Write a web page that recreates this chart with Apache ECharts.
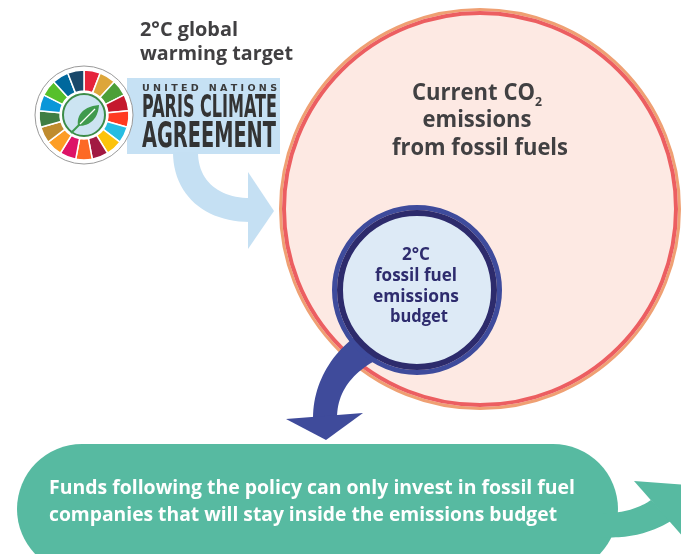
<!DOCTYPE html>
<html>
<head>
<meta charset="utf-8">
<script src="https://cdn.jsdelivr.net/npm/echarts@6/dist/echarts.min.js"></script>
<style>
  html, body { margin: 0; padding: 0; background: #fff; }
  #chart { width: 681px; height: 554px; }
</style>
</head>
<body>
<div id="chart"></div>
<script>
// SDG wheel: 17 equal segments, clockwise from 12 o'clock
const wheelColors = ["#E5243B", "#DDA63A", "#4C9F38", "#C5192D", "#FF3A21", "#26BDE2", "#FCC30B", "#A21942", "#FD6925",
  "#DD1367", "#FD9D24", "#BF8B2E", "#3F7E44", "#0A97D9", "#56C02B", "#00689D", "#19486A"];
const wheelValues = [1, 1, 1, 1, 1, 1, 1, 1, 1, 1, 1, 1, 1, 1, 1, 1, 1];

const titleLines = ["2°C global", "warming target"];
const logoLines = ["U N I T E D   N A T I O N S", "PARIS CLIMATE", "AGREEMENT"];
const currentLines = ["Current CO", "emissions", "from fossil fuels"];
const currentSub = "2";
const budgetLines = ["2°C", "fossil fuel", "emissions", "budget"];
const boxLines = [
  "Funds following the policy can only invest in fossil fuel",
  "companies that will stay inside the emissions budget",
];

const SANS = '"Open Sans", "Noto Sans", sans-serif';
const NARROW = '"Liberation Sans Narrow", "DejaVu Sans Condensed", sans-serif';
const DARK = "#414042";

// squeeze text to the width it has in the picture
const ctx = document.createElement("canvas").getContext("2d");
function fit(text, size, family, target) {
  ctx.font = "bold " + size + "px " + family;
  return target / ctx.measureText(text).width;
}

function label(text, x, y, size, color, target, align, family) {
  family = family || SANS;
  return {
    type: "text",
    x: x,
    y: y,
    scaleX: fit(text, size, family, target),
    z: 20,
    silent: true,
    style: {
      text: text,
      fontSize: size,
      fontWeight: "bold",
      fontFamily: family,
      fill: color,
      align: align || "left",
      verticalAlign: "middle",
    },
  };
}

// cubic bezier -> points (graphic component has no path type)
function cubic(p0, p1, p2, p3) {
  const pts = [];
  for (let i = 0; i <= 24; i++) {
    const t = i / 24, u = 1 - t;
    pts.push([
      u * u * u * p0[0] + 3 * u * u * t * p1[0] + 3 * u * t * t * p2[0] + t * t * t * p3[0],
      u * u * u * p0[1] + 3 * u * u * t * p1[1] + 3 * u * t * t * p2[1] + t * t * t * p3[1],
    ]);
  }
  return pts;
}

function shape(points, fill, z) {
  return { type: "polygon", z: z, silent: true, shape: { points: points }, style: { fill: fill } };
}

const lightArrow = cubic([173, 152], [173, 195], [205, 222], [250, 222])
  .concat(cubic([250, 198], [220, 198], [198, 182], [198, 152]));
const darkArrow = cubic([356, 336], [330, 355], [313, 385], [313, 418])
  .concat(cubic([337, 418], [337, 392], [352, 372], [380, 358]));
const greenArrow = cubic([600, 513], [620, 514], [638, 509], [651, 500])
  .concat(cubic([671, 521], [650, 534], [625, 539], [600, 537]));
const leaf = cubic([78, 126], [76, 113], [86, 106], [99, 105])
  .concat(cubic([99, 105], [98, 119], [90, 126], [78, 126]));

const chart = echarts.init(document.getElementById("chart"));

const graphics = [
  // light blue band behind the UN text
  { type: "rect", z: 0, silent: true, shape: { x: 127, y: 78, width: 153, height: 76 }, style: { fill: "#C6E1F4" } },
  // light blue arrow
  shape(lightArrow, "#C5E0F3", 0),
  shape([[248, 172], [274, 211], [248, 249]], "#C5E0F3", 0),
  // wheel base
  { type: "circle", z: 1, silent: true, shape: { cx: 84, cy: 115, r: 49 }, style: { fill: "#fff", stroke: "#9a9a9a", lineWidth: 1 } },
  // wheel centre and leaf
  { type: "circle", z: 5, silent: true, shape: { cx: 84, cy: 115, r: 21 }, style: { fill: "#CCE4F2", stroke: "#3C8C48", lineWidth: 2 } },
  shape(leaf, "#3F9A4E", 6),
  { type: "line", z: 6, silent: true, shape: { x1: 71, y1: 133, x2: 80, y2: 124 }, style: { stroke: "#3F9A4E", lineWidth: 2 } },
  { type: "line", z: 7, silent: true, shape: { x1: 80, y1: 124, x2: 95, y2: 109 }, style: { stroke: "#fff", lineWidth: 1.3 } },

  // big circle
  { type: "circle", z: 8, silent: true, shape: { cx: 480, cy: 209, r: 199.5 }, style: { fill: "none", stroke: "#EFA073", lineWidth: 3 } },
  { type: "circle", z: 8, silent: true, shape: { cx: 480, cy: 209, r: 196 }, style: { fill: "#FDE9E3", stroke: "#EC5E61", lineWidth: 4 } },

  // dark blue arrow from the budget circle
  shape(darkArrow, "#3F4B9B", 9),
  shape([[286, 419], [363, 413], [326, 440]], "#3F4B9B", 9),

  // budget circle
  { type: "circle", z: 10, silent: true, shape: { cx: 417, cy: 290, r: 82.5 }, style: { fill: "none", stroke: "#3E4B9C", lineWidth: 5 } },
  { type: "circle", z: 10, silent: true, shape: { cx: 417, cy: 290, r: 77 }, style: { fill: "#DDEAF6", stroke: "#2D2B6C", lineWidth: 6 } },

  // green box and arrow
  { type: "rect", z: 11, silent: true, shape: { x: 17, y: 444, width: 601, height: 130, r: 65 }, style: { fill: "#57BAA1" } },
  shape(greenArrow, "#57BAA1", 11),
  shape([[634, 481], [703, 486], [691, 546]], "#57BAA1", 11),

  // texts
  label(titleLines[0], 140, 31, 19, DARK, 98),
  label(titleLines[1], 140, 55, 19, DARK, 153),
  label(logoLines[0], 142, 89, 8, "#3a3a3a", 135, "left", NARROW),
  label(logoLines[1], 142, 109, 32, "#333", 135, "left", NARROW),
  label(logoLines[2], 142, 138, 35, "#333", 134, "left", NARROW),

  label(currentLines[0], 412, 93, 23, DARK, 123),
  label(currentSub, 535, 102, 13, DARK, 7),
  label(currentLines[1], 477, 120, 23, DARK, 109, "center"),
  label(currentLines[2], 480, 148, 23, DARK, 176, "center"),

  label(budgetLines[0], 416, 255, 17, "#2E2C6E", 28, "center"),
  label(budgetLines[1], 416, 276, 17, "#2E2C6E", 82, "center"),
  label(budgetLines[2], 416, 297, 17, "#2E2C6E", 86, "center"),
  label(budgetLines[3], 419, 317, 17, "#2E2C6E", 58, "center"),

  label(boxLines[0], 49, 489, 19, "#fff", 526),
  label(boxLines[1], 49, 516, 19, "#fff", 508),
];

chart.setOption({
  animation: false,
  backgroundColor: "#fff",
  series: [
    {
      type: "pie",
      silent: true,
      center: [84, 115],
      radius: [24, 45],
      startAngle: 90,
      clockwise: true,
      label: { show: false },
      labelLine: { show: false },
      itemStyle: { borderColor: "#fff", borderWidth: 1.5 },
      data: wheelValues.map((v, i) => ({ value: v, itemStyle: { color: wheelColors[i] } })),
    },
  ],
  graphic: { elements: graphics },
});
</script>
</body>
</html>
